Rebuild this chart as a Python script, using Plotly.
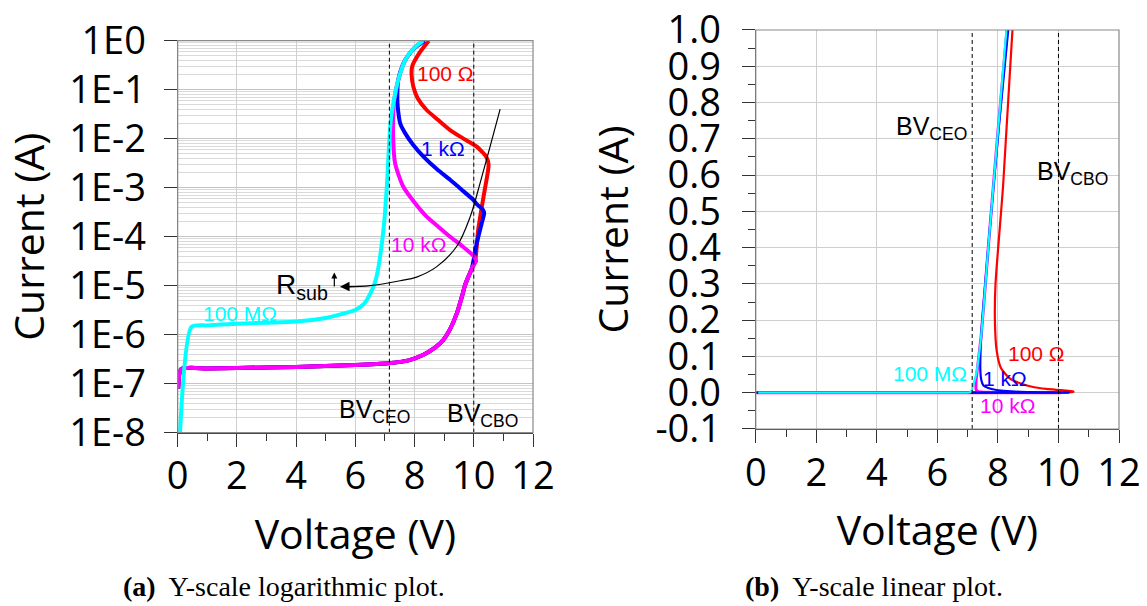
import plotly.graph_objects as go

# ---------------- data ----------------
# 100 MOhm (cyan)
v_100M = [0.08, 0.47, 1.0, 2.0, 3.0, 4.0, 5.0, 5.5, 6.0, 6.3, 6.5, 6.65, 6.75, 6.85, 6.95, 7.0, 7.08, 7.13, 7.2, 7.3, 7.45, 7.7, 8.0, 8.28]
i_100M = [1.0e-8, 1.45e-6, 1.55e-6, 1.68e-6, 1.76e-6, 1.86e-6, 2.2e-6, 2.6e-6, 3.2e-6, 4.3e-6, 6.8e-6, 1.1e-5, 1.9e-5, 4.5e-5, 1.4e-4, 3.0e-4, 1.5e-3, 6e-3, 0.025, 0.06, 0.16, 0.42, 0.72, 1.0]

# common low-current branch (shared shape of the 100 Ohm / 1 kOhm / 10 kOhm curves)
v_low = [0.02, 0.12, 1.0, 2.0, 4.0, 6.0, 7.1, 7.8, 8.3, 8.7, 8.97, 9.2, 9.43, 9.6, 9.71, 9.85, 9.93]
i_low = [8e-8, 2.0e-7, 2.05e-7, 2.1e-7, 2.2e-7, 2.4e-7, 2.6e-7, 3.0e-7, 3.9e-7, 5.5e-7, 7.8e-7, 1.3e-6, 2.75e-6, 6e-6, 1.05e-5, 1.7e-5, 2.2e-5]

# 10 kOhm (magenta) snapback branch
v_10k_hi = [10.04, 10.08, 10.0, 9.6, 9.2, 8.8, 8.4, 8.0, 7.62, 7.45, 7.34, 7.28, 7.28, 7.32, 7.45, 7.7, 8.0, 8.3]
i_10k_hi = [2.9e-5, 3.2e-5, 4.0e-5, 6.5e-5, 1.0e-4, 1.6e-4, 2.6e-4, 5.0e-4, 1.05e-3, 1.9e-3, 3.2e-3, 9e-3, 0.033, 0.065, 0.16, 0.42, 0.72, 1.0]

# 1 kOhm (blue) snapback branch
v_1k_hi = [10.1, 10.27, 10.35, 10.3, 10.1, 9.99, 9.6, 9.2, 8.75, 8.3, 7.95, 7.68, 7.52, 7.45, 7.42, 7.45, 7.6, 7.75, 8.05, 8.34]
i_1k_hi = [7.4e-5, 1.9e-4, 3.0e-4, 3.6e-4, 4.6e-4, 5.6e-4, 9e-4, 1.45e-3, 2.4e-3, 4.3e-3, 7.5e-3, 0.013, 0.02, 0.035, 0.06, 0.16, 0.32, 0.47, 0.75, 1.0]

# 100 Ohm (red) snapback branch
v_100_hi = [10.04, 10.15, 10.33, 10.48, 10.5, 10.42, 10.1, 9.6, 9.2, 8.8, 8.4, 8.1, 7.96, 7.9, 7.92, 8.17, 8.48]
i_100_hi = [3.0e-5, 1.4e-4, 6.6e-4, 2.2e-3, 3.0e-3, 4.3e-3, 6.9e-3, 0.0105, 0.015, 0.024, 0.039, 0.068, 0.115, 0.2, 0.3, 0.57, 1.0]

v_10k = v_low + v_10k_hi
i_10k = i_low + i_10k_hi
v_1k = v_low + v_1k_hi
i_1k = i_low + i_1k_hi
v_100 = v_low + v_100_hi
i_100 = i_low + i_100_hi

# R_sub trend arrow (log plot)
v_rsub = [10.89, 10.55, 10.21, 9.88, 9.42, 8.75, 8.07, 7.51, 6.5, 5.7]
i_rsub = [4.0e-2, 6.9e-3, 1.23e-3, 2.57e-4, 6.3e-5, 2.45e-5, 1.5e-5, 1.26e-5, 1.0e-5, 9.5e-6]

bv_ceo = 7.15
bv_cbo = 10.0

log_tickvals = [1e-8, 1e-7, 1e-6, 1e-5, 1e-4, 1e-3, 1e-2, 1e-1, 1e0]
log_ticktext = ["1E-8", "1E-7", "1E-6", "1E-5", "1E-4", "1E-3", "1E-2", "1E-1", "1E0"]
lin_tickvals = [-0.1, 0.0, 0.1, 0.2, 0.3, 0.4, 0.5, 0.6, 0.7, 0.8, 0.9, 1.0]
lin_ticktext = ["-0.1", "0.0", "0.1", "0.2", "0.3", "0.4", "0.5", "0.6", "0.7", "0.8", "0.9", "1.0"]
volt_ticks = [0, 2, 4, 6, 8, 10, 12]

C_RED = "#ff0000"
C_BLUE = "#0000ff"
C_MAG = "#ff00ff"
C_CYAN = "#00ffff"

# ---------------- figure ----------------
fig = go.Figure()

# left (log) panel: red, blue, magenta, cyan
for v, i, c in [(v_100, i_100, C_RED), (v_1k, i_1k, C_BLUE), (v_10k, i_10k, C_MAG), (v_100M, i_100M, C_CYAN)]:
    fig.add_trace(go.Scatter(x=v, y=i, mode="lines", line=dict(color=c, width=4, shape="spline", smoothing=0.6),
                             xaxis="x", yaxis="y", showlegend=False, hoverinfo="skip"))
fig.add_trace(go.Scatter(x=v_rsub, y=i_rsub, mode="lines", line=dict(color="black", width=1.2, shape="spline"),
                         xaxis="x", yaxis="y", showlegend=False, hoverinfo="skip"))

# right (linear) panel: magenta, red, blue, cyan
for v, i, c, w in [(v_10k, i_10k, C_MAG, 3), (v_100, i_100, C_RED, 2.2), (v_1k, i_1k, C_BLUE, 2.2), (v_100M, i_100M, C_CYAN, 2.2)]:
    fig.add_trace(go.Scatter(x=v, y=i, mode="lines", line=dict(color=c, width=w, shape="spline", smoothing=0.6),
                             xaxis="x2", yaxis="y2", showlegend=False, hoverinfo="skip"))

# dashed BV lines (both panels)
for xa, ya, y0, y1 in [("x", "y", 1e-8, 1), ("x2", "y2", -0.1, 1.0)]:
    for bv in (bv_ceo, bv_cbo):
        fig.add_trace(go.Scatter(x=[bv, bv], y=[y0, y1], mode="lines",
                                 line=dict(color="black", width=1, dash="4px,3px"),
                                 xaxis=xa, yaxis=ya, showlegend=False, hoverinfo="skip"))

TICKFONT = dict(family="Open Sans", size=38, color="black")
TITLEFONT = dict(family="Open Sans", size=41, color="black")
GRID = "#cfcfcf"
AXLINE = "#333333"

def xaxis_cfg(domain, anchor):
    return dict(domain=domain, anchor=anchor, range=[0, 12], tickvals=volt_ticks, automargin=False,
                ticks="outside", ticklen=13, tickcolor=AXLINE, tickwidth=1.2, ticklabelstandoff=-3,
                showline=True, linecolor=AXLINE, linewidth=1.2,
                showgrid=True, gridcolor=GRID, gridwidth=1.3, zeroline=False,
                minor=dict(dtick=1, ticks="outside", ticklen=7, tickcolor=AXLINE, showgrid=False),
                tickfont=TICKFONT, title=dict(text="Voltage (V)", font=TITLEFONT, standoff=20))

fig.update_layout(
    width=1147, height=606,
    margin=dict(l=0, r=0, t=0, b=0, autoexpand=False),
    paper_bgcolor="white", plot_bgcolor="white",
    showlegend=False,
    xaxis=xaxis_cfg([0.1549, 0.4647], "y"),
    yaxis=dict(domain=[0.286, 0.9328], anchor="x", type="log", range=[-8, 0],
               automargin=False,
               tickmode="array", tickvals=log_tickvals, ticktext=log_ticktext,
               ticks="outside", ticklen=13, tickcolor=AXLINE, tickwidth=1.2, ticklabelstandoff=10,
               showline=True, linecolor=AXLINE, linewidth=1.2,
               showgrid=True, gridcolor="#c4c4c4", gridwidth=1.3, zeroline=False,
               minor=dict(dtick="D1", showgrid=True, gridcolor="#dadada", gridwidth=1, ticks=""),
               tickfont=TICKFONT, title=dict(text="Current (A)", font=TITLEFONT, standoff=11)),
    xaxis2=xaxis_cfg([0.6589, 0.9756], "y2"),
    yaxis2=dict(domain=[0.2921, 0.9505], anchor="x2", range=[-0.1, 1.0],
                automargin=False,
                tickmode="array", tickvals=lin_tickvals, ticktext=lin_ticktext,
                ticks="outside", ticklen=13, tickcolor=AXLINE, tickwidth=1.2, ticklabelstandoff=13,
                showline=True, linecolor=AXLINE, linewidth=1.2,
                showgrid=True, gridcolor=GRID, gridwidth=1.3, zeroline=False,
                minor=dict(dtick=0.05, tick0=0, ticks="outside", ticklen=7, tickcolor=AXLINE, showgrid=False),
                tickfont=TICKFONT, title=dict(text="Current (A)", font=TITLEFONT, standoff=14)),
)

# frame (top / right borders) for both panels
for xr, yr in [("x domain", "y domain"), ("x2 domain", "y2 domain")]:
    fig.add_shape(type="rect", xref=xr, yref=yr, x0=0, x1=1, y0=0, y1=1,
                  line=dict(color="#8a8a8a", width=1.2), fillcolor="rgba(0,0,0,0)", layer="above")

LBL = "Liberation Sans"
def ann(x, y, text, color, size, xref="x", yref="y", xanchor="left", yanchor="middle"):
    fig.add_annotation(x=x, y=y, xref=xref, yref=yref, text=text, showarrow=False,
                       xanchor=xanchor, yanchor=yanchor, font=dict(family=LBL, size=size, color=color))

# left panel labels (y in log10 units)
ann(8.02, -0.67, "100 Ω", C_RED, 21)
ann(8.16, -2.2, "1 kΩ", C_BLUE, 21)
ann(7.15, -4.15, "10 kΩ", C_MAG, 21)
ann(0.78, -5.57, "100 MΩ", C_CYAN, 21)
ann(5.37, -7.55, "BV<sub>CEO</sub>", "black", 25)
ann(9.03, -7.64, "BV<sub>CBO</sub>", "black", 25)
ann(3.25, -5.02, "R<sub>sub</sub>", "black", 28)
# small up arrow next to R_sub
fig.add_annotation(x=5.29, y=-4.73, xref="x", yref="y", ax=5.29, ay=-5.22, axref="x", ayref="y",
                   showarrow=True, arrowhead=2, arrowsize=1, arrowwidth=1.2, arrowcolor="black", text=" ")
# arrow head of the R_sub curve
fig.add_annotation(x=5.48, y=-5.02, xref="x", yref="y", ax=6.0, ay=-5.015, axref="x", ayref="y",
                   showarrow=True, arrowhead=2, arrowsize=1.6, arrowwidth=1.2, arrowcolor="black", text=" ")

# right panel labels
ann(4.56, 0.73, "BV<sub>CEO</sub>", "black", 25, "x2", "y2")
ann(9.24, 0.605, "BV<sub>CBO</sub>", "black", 25, "x2", "y2")
ann(8.28, 0.109, "100 Ω", C_RED, 21, "x2", "y2")
ann(4.46, 0.054, "100 MΩ", C_CYAN, 21, "x2", "y2")
ann(7.43, 0.039, "1 kΩ", C_BLUE, 21, "x2", "y2")
ann(7.35, -0.034, "10 kΩ", C_MAG, 21, "x2", "y2")

# captions
CAPFONT = dict(family="Liberation Serif", size=28, color="black")
fig.add_annotation(x=284 / 1147, y=1 - 586 / 606, xref="paper", yref="paper", showarrow=False,
                   text="<b>(a)</b>  Y-scale logarithmic plot.", xanchor="center", yanchor="middle", font=CAPFONT)
fig.add_annotation(x=874 / 1147, y=1 - 586 / 606, xref="paper", yref="paper", showarrow=False,
                   text="<b>(b)</b>  Y-scale linear plot.", xanchor="center", yanchor="middle", font=CAPFONT)

fig.write_html("out.html")
